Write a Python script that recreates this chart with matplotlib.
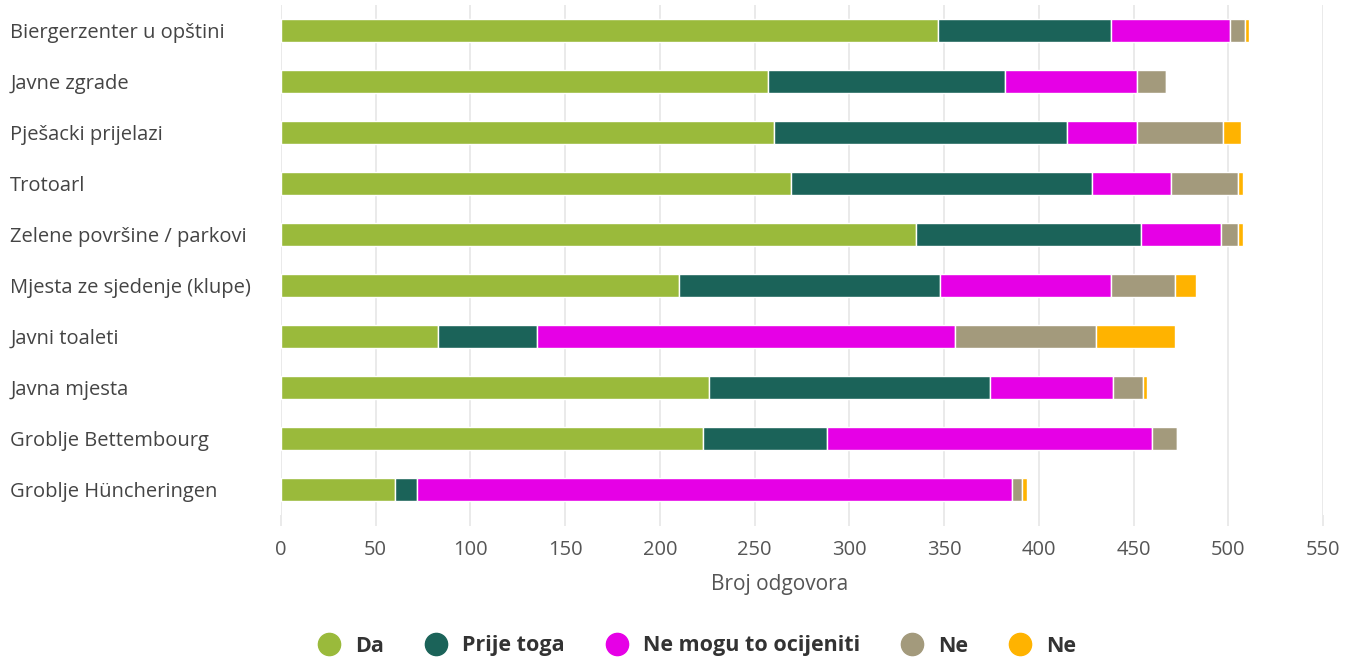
import numpy as np
import matplotlib.pyplot as plt
from matplotlib.lines import Line2D

plt.rcParams['font.family'] = ['Open Sans', 'DejaVu Sans']

categories = [
    "Biergerzenter u opštini",
    "Javne zgrade",
    "Pješacki prijelazi",
    "Trotoarl",
    "Zelene površine / parkovi",
    "Mjesta ze sjedenje (klupe)",
    "Javni toaleti",
    "Javna mjesta",
    "Groblje Bettembourg",
    "Groblje Hüncheringen",
]

da = [347, 257, 260, 269, 335, 210, 83, 226, 223, 60]
prije_toga = [91, 125, 155, 159, 119, 138, 52, 148, 65, 12]
ne_mogu = [63, 70, 37, 42, 42, 90, 221, 65, 172, 314]
ne = [8, 15, 45, 35, 9, 34, 74, 16, 13, 5]
ne_2 = [2, 0, 9.5, 3, 3, 11, 42, 2, 0, 3]

series_names = ["Da", "Prije toga", "Ne mogu to ocijeniti", "Ne", "Ne"]
colors = ["#9aba3b", "#1b6359", "#e600e6", "#a39a7c", "#ffb300"]

fig = plt.figure(figsize=(13.51, 6.62), dpi=100)
ax = fig.add_axes([281 / 1351, 1 - 515 / 662, (1323 - 281) / 1351, 510 / 662])

y = np.arange(len(categories))
left = np.zeros(len(categories))
for vals, c in zip([da, prije_toga, ne_mogu, ne, ne_2], colors):
    vals = np.array(vals, dtype=float)
    ax.barh(y, vals, left=left, height=0.47, color=c, edgecolor="white",
            linewidth=1, zorder=3)
    left += vals

ax.set_xlim(0, 550)
ax.set_ylim(len(categories) - 0.5, -0.5)
ax.set_xticks(np.arange(0, 551, 50))
ax.grid(axis="x", color="#e6e6e6", linewidth=1.2, zorder=0)
for s in ax.spines.values():
    s.set_visible(False)

ax.set_yticks(y)
ax.set_yticklabels(categories, fontsize=14.5, color="#444444")
ax.tick_params(axis="y", length=0, pad=195)
for lbl in ax.get_yticklabels():
    lbl.set_ha("left")

ax.tick_params(axis="x", length=8, width=1.2, color="#e6e6e6", labelsize=14.5,
               labelcolor="#555555", pad=10)
ax.set_xlabel("Broj odgovora", fontsize=15, color="#555555")
ax.xaxis.set_label_coords((780 - 281) / (1323 - 281), -0.115)

handles = [Line2D([0], [0], marker="o", linestyle="", markersize=16,
                  markerfacecolor=c, markeredgecolor=c) for c in colors]
leg = fig.legend(handles, series_names, loc="center", ncol=5,
                 bbox_to_anchor=(694 / 1351, 1 - 646 / 662), frameon=False,
                 prop={"size": 15.5, "weight": "bold"}, handletextpad=0.43,
                 columnspacing=1.6, handlelength=1.6)
for t in leg.get_texts():
    t.set_color("#333333")

fig.savefig("out.png", dpi=100)
